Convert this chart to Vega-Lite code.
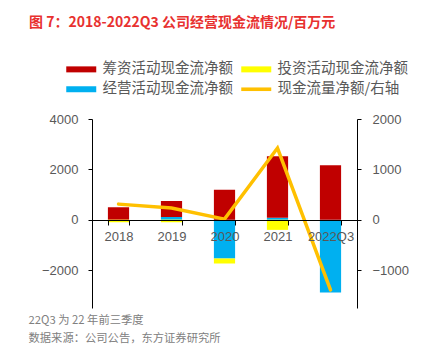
{
  "$schema": "https://vega.github.io/schema/vega-lite/v6.json",
  "width": 265,
  "height": 189,
  "autosize": {"type": "none"},
  "padding": {"left": 92, "top": 119, "right": 72, "bottom": 50},
  "background": "white",
  "config": {"font": "Liberation Sans", "view": {"stroke": null}},
  "title": {
    "text": "图 7：2018-2022Q3 公司经营现金流情况/百万元",
    "anchor": "start",
    "frame": "group",
    "dx": -63,
    "offset": 32,
    "fontSize": 14,
    "fontWeight": "bold",
    "color": "#E8312F",
    "font": "Noto Sans CJK SC"
  },
  "datasets": {
    "bars": [
      {"year": "2018", "type": "经营活动现金流净额", "value": 0, "ord": 1},
      {"year": "2018", "type": "筹资活动现金流净额", "value": 500, "ord": 2},
      {"year": "2018", "type": "投资活动现金流净额", "value": -100, "ord": 3},
      {"year": "2019", "type": "经营活动现金流净额", "value": 110, "ord": 1},
      {"year": "2019", "type": "筹资活动现金流净额", "value": 640, "ord": 2},
      {"year": "2019", "type": "投资活动现金流净额", "value": -100, "ord": 3},
      {"year": "2020", "type": "经营活动现金流净额", "value": -1540, "ord": 1},
      {"year": "2020", "type": "筹资活动现金流净额", "value": 1190, "ord": 2},
      {"year": "2020", "type": "投资活动现金流净额", "value": -190, "ord": 3},
      {"year": "2021", "type": "经营活动现金流净额", "value": 80, "ord": 1},
      {"year": "2021", "type": "筹资活动现金流净额", "value": 2440, "ord": 2},
      {"year": "2021", "type": "投资活动现金流净额", "value": -400, "ord": 3},
      {"year": "2022Q3", "type": "经营活动现金流净额", "value": -2880, "ord": 1},
      {"year": "2022Q3", "type": "筹资活动现金流净额", "value": 2160, "ord": 2},
      {"year": "2022Q3", "type": "投资活动现金流净额", "value": 0, "ord": 3}
    ],
    "net": [
      {"year": "2018", "net": 311},
      {"year": "2019", "net": 232},
      {"year": "2020", "net": 13},
      {"year": "2021", "net": 1424},
      {"year": "2022Q3", "net": -1391}
    ]
  },
  "layer": [
    {
      "data": {"name": "bars"},
      "mark": {"type": "bar"},
      "encoding": {
        "x": {
          "field": "year",
          "type": "nominal",
          "sort": null,
          "scale": {"paddingInner": 0.6, "paddingOuter": 0.3},
          "axis": {
            "orient": "bottom",
            "offset": -88,
            "zindex": 1,
            "labelAngle": 0,
            "labelFontSize": 13,
            "labelColor": "#595959",
            "labelPadding": 5,
            "domainColor": "#000000",
            "domainWidth": 1,
            "tickColor": "#000000",
            "tickSize": 5,
            "tickBand": "extent",
            "grid": false,
            "title": ["22Q3 为 22 年前三季度", "数据来源：公司公告，东方证券研究所"],
            "titleFont": "Noto Sans CJK SC",
            "titleFontSize": 11.3,
            "titleFontWeight": "normal",
            "titleColor": "#808080",
            "titleAnchor": "start",
            "titleAlign": "left",
            "titleBaseline": "middle",
            "titleX": -64,
            "titleY": 100,
            "titleLineHeight": 18
          }
        },
        "y": {
          "field": "value",
          "type": "quantitative",
          "stack": "zero",
          "scale": {"domain": [-3500, 4000], "nice": false, "zero": false},
          "axis": {
            "orient": "left",
            "values": [-2000, 0, 2000, 4000],
            "format": "d",
            "grid": false,
            "labelFontSize": 13,
            "labelColor": "#595959",
            "labelPadding": 10,
            "domainColor": "#000000",
            "tickColor": "#000000",
            "tickSize": 4,
            "title": null
          }
        },
        "order": {"field": "ord", "type": "quantitative"},
        "color": {
          "field": "type",
          "type": "nominal",
          "scale": {
            "domain": ["筹资活动现金流净额", "经营活动现金流净额", "投资活动现金流净额", "现金流量净额/右轴"],
            "range": ["#C00000", "#00B0F0", "#FFFF00", "#FFC000"]
          },
          "legend": {
            "orient": "none",
            "legendX": -27,
            "legendY": -57,
            "columns": 2,
            "columnPadding": 7,
            "rowPadding": 5,
            "title": null,
            "padding": 0,
            "labelFontSize": 14.5,
            "labelFont": "Noto Sans CJK SC",
            "labelColor": "#595959",
            "labelLimit": 300,
            "labelOffset": 23,
            "symbolSize": 144,
            "symbolType": "M-1,-0.5H4V0.5H-1Z",
            "encode": {
              "symbols": {
                "update": {
                  "shape": {"signal": "datum.label === '现金流量净额/右轴' ? 'M-1,-0.3H4V0.3H-1Z' : 'M-1,-0.5H4V0.5H-1Z'"},
                  "fill": {"scale": "color", "field": "value"},
                  "strokeWidth": {"value": 0},
                  "opacity": {"value": 1}
                }
              }
            }
          }
        }
      }
    },
    {
      "data": {"name": "net"},
      "mark": {"type": "line", "strokeWidth": 3.5, "strokeCap": "round", "strokeJoin": "miter"},
      "encoding": {
        "x": {"field": "year", "type": "nominal", "sort": null},
        "y": {
          "field": "net",
          "type": "quantitative",
          "scale": {"domain": [-1750, 2000], "nice": false, "zero": false},
          "axis": {
            "orient": "right",
            "values": [-1000, 0, 1000, 2000],
            "format": "d",
            "grid": false,
            "labelFontSize": 13,
            "labelColor": "#595959",
            "labelPadding": 11,
            "domainColor": "#000000",
            "tickColor": "#000000",
            "tickSize": 4,
            "title": null
          }
        },
        "color": {"datum": "现金流量净额/右轴", "type": "nominal"}
      }
    }
  ],
  "resolve": {"scale": {"y": "independent"}}
}
